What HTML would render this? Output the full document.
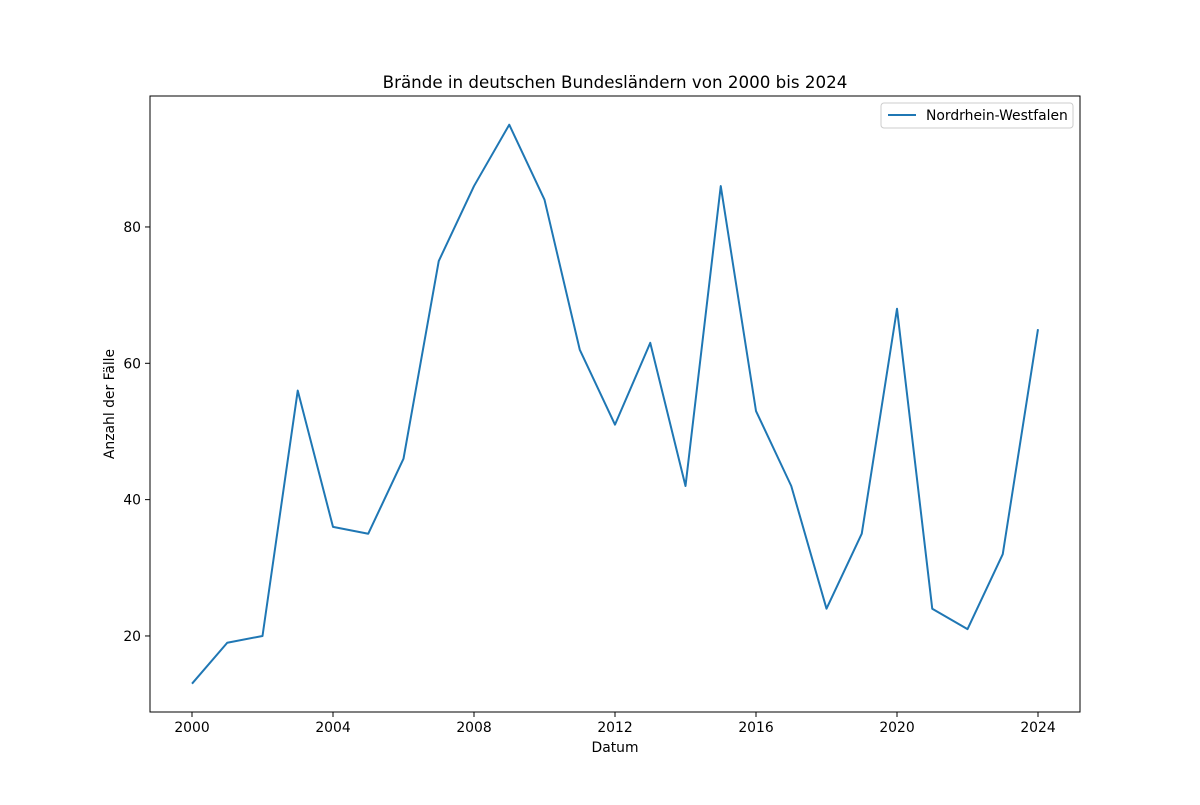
<!DOCTYPE html>
<html><head><meta charset="utf-8"><style>
body{margin:0;background:#fff}
text{font-family:"DejaVu Sans","Liberation Sans",sans-serif;fill:#000}
</style></head><body>
<svg id="chart" width="1200" height="800">
<rect width="1200" height="800" fill="#fff"/>
<text x="615" y="88" font-size="16.7" text-anchor="middle">Brände in deutschen Bundesländern von 2000 bis 2024</text>
<g id="xt"></g><g id="yt"></g>
<polyline id="line" fill="none" stroke="#1f77b4" stroke-width="2" stroke-linejoin="round"/>
<rect x="150" y="96" width="930" height="616" fill="none" stroke="#000" stroke-width="1"/>
<text x="615" y="752" font-size="13.9" text-anchor="middle">Datum</text>
<text transform="translate(114,404) rotate(-90)" font-size="13.9" text-anchor="middle">Anzahl der Fälle</text>
<g>
<rect x="881" y="103" width="192" height="25" fill="#fff" stroke="#ccc" rx="3"/>
<line x1="888" y1="115" x2="916" y2="115" stroke="#1f77b4" stroke-width="2"/>
<text x="926" y="120" font-size="13.9">Nordrhein-Westfalen</text>
</g>
</svg>
<script>
const years=[2000,2001,2002,2003,2004,2005,2006,2007,2008,2009,2010,2011,2012,2013,2014,2015,2016,2017,2018,2019,2020,2021,2022,2023,2024];
const values=[13,19,20,56,36,35,46,75,86,95,84,62,51,63,42,86,53,42,24,35,68,24,21,32,65];
const xTicks=[2000,2004,2008,2012,2016,2020,2024];
const yTicks=[20,40,60,80];
const NS="http://www.w3.org/2000/svg";
function xs(v){return 192+(v-2000)*35.25;}
function ys(v){return 772.3-v*6.8167;}
document.getElementById('line').setAttribute('points',years.map((y,i)=>xs(y)+','+ys(values[i])).join(' '));
const xt=document.getElementById('xt'),yt=document.getElementById('yt');
xTicks.forEach(t=>{
 const l=document.createElementNS(NS,'line');
 l.setAttribute('x1',xs(t));l.setAttribute('x2',xs(t));l.setAttribute('y1',712);l.setAttribute('y2',717);l.setAttribute('stroke','#000');
 
 
 xt.appendChild(l);
 const s=document.createElementNS(NS,'text');
 s.setAttribute('x',xs(t));s.setAttribute('y',732);s.setAttribute('font-size','13.9');s.setAttribute('text-anchor','middle');s.textContent=t;
 
 
 xt.appendChild(s);
});
yTicks.forEach(t=>{
 const l=document.createElementNS(NS,'line');
 l.setAttribute('x1',145);l.setAttribute('x2',150);l.setAttribute('y1',ys(t));l.setAttribute('y2',ys(t));l.setAttribute('stroke','#000');
 
 
 yt.appendChild(l);
 const s=document.createElementNS(NS,'text');
 s.setAttribute('x',141);s.setAttribute('y',ys(t)+5);s.setAttribute('font-size','13.9');s.setAttribute('text-anchor','end');s.textContent=t;
 
 
 yt.appendChild(s);
});
</script>
</body></html>
